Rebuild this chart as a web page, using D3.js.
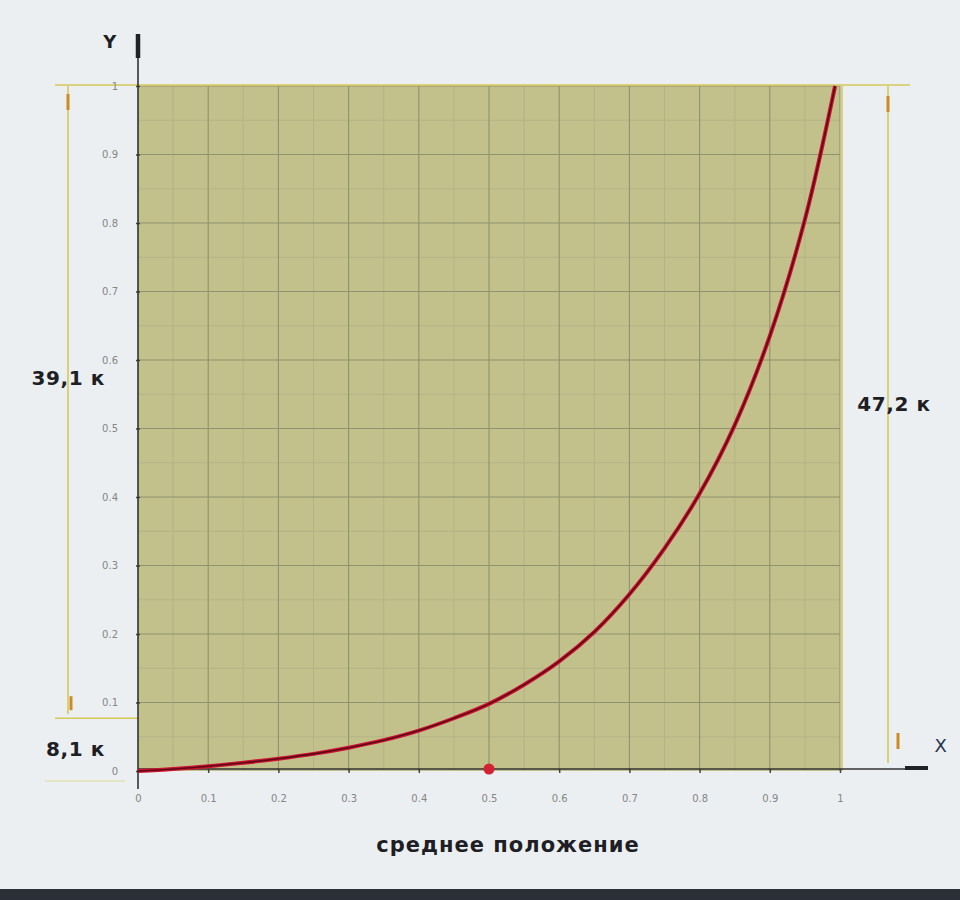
<!DOCTYPE html>
<html>
<head>
<meta charset="utf-8">
<script src="https://cdn.jsdelivr.net/npm/d3@7"></script>
<style>
  html, body { margin: 0; padding: 0; background: #ebeff2; }
  svg { display: block; }
</style>
</head>
<body>
<svg id="chart" width="960" height="900"></svg>
<script>
// ---- data ----
const curveX = [0, 0.05, 0.1, 0.15, 0.2, 0.25, 0.3, 0.35, 0.4, 0.45, 0.5, 0.55, 0.6, 0.65, 0.7, 0.75, 0.8, 0.85, 0.9, 0.95, 0.993];
const curveY = [0, 0.003, 0.007, 0.012, 0.018, 0.025, 0.034, 0.045, 0.059, 0.077, 0.098, 0.126, 0.16, 0.203, 0.258, 0.325, 0.405, 0.505, 0.635, 0.805, 1.0];
const markerPoint = [0.5, 0];
const xTicks = [0, 0.1, 0.2, 0.3, 0.4, 0.5, 0.6, 0.7, 0.8, 0.9, 1];
const yTicks = [0, 0.1, 0.2, 0.3, 0.4, 0.5, 0.6, 0.7, 0.8, 0.9, 1];
const minorTicks = [0.05, 0.15, 0.25, 0.35, 0.45, 0.55, 0.65, 0.75, 0.85, 0.95];
const dimLeftTop = "39,1 к";
const dimLeftBottom = "8,1 к";
const dimRight = "47,2 к";
const xTitle = "среднее положение";
const leftSplit = 0.08;   // level where left dimension is split

// ---- drawing ----
const svg = d3.select("#chart");
const x = d3.scaleLinear().domain([0, 1]).range([138, 840]);
const y = d3.scaleLinear().domain([0, 1]).range([771, 86]);

// shaded plot field
svg.append("rect")
  .attr("x", x(0)).attr("y", y(1))
  .attr("width", x(1) - x(0)).attr("height", y(0) - y(1))
  .attr("fill", "#c2c18c");

// minor grid
const g = svg.append("g");
g.selectAll("line.mv").data(minorTicks).join("line")
  .attr("x1", d => x(d)).attr("x2", d => x(d))
  .attr("y1", y(1)).attr("y2", y(0))
  .attr("stroke", "#b0b086").attr("stroke-width", 0.8);
g.selectAll("line.mh").data(minorTicks).join("line")
  .attr("y1", d => y(d)).attr("y2", d => y(d))
  .attr("x1", x(0)).attr("x2", x(1))
  .attr("stroke", "#b0b086").attr("stroke-width", 0.8);
// major grid
g.selectAll("line.gv").data(xTicks.slice(1)).join("line")
  .attr("x1", d => x(d)).attr("x2", d => x(d))
  .attr("y1", y(1)).attr("y2", y(0))
  .attr("stroke", "#90916e").attr("stroke-width", 1.1);
g.selectAll("line.gh").data(yTicks.slice(1)).join("line")
  .attr("y1", d => y(d)).attr("y2", d => y(d))
  .attr("x1", x(0)).attr("x2", x(1))
  .attr("stroke", "#90916e").attr("stroke-width", 1.1);

// dimension lines (yellow) and arrow marks (orange)
const dimColor = "#d6c858", arrowColor = "#cf8a22";
const dim = svg.append("g").attr("stroke", dimColor).attr("stroke-width", 1.6);
dim.append("line").attr("x1", 55).attr("x2", 910).attr("y1", y(1) - 1).attr("y2", y(1) - 1);
dim.append("line").attr("x1", 68).attr("x2", 68).attr("y1", y(1)).attr("y2", y(leftSplit) - 2);
dim.append("line").attr("x1", 55).attr("x2", x(0)).attr("y1", y(leftSplit) + 2).attr("y2", y(leftSplit) + 2);
dim.append("line").attr("x1", 45).attr("x2", 125).attr("y1", y(0) + 10).attr("y2", y(0) + 10).attr("stroke-opacity", 0.4);
dim.append("line").attr("x1", 888).attr("x2", 888).attr("y1", y(1)).attr("y2", y(0) - 8);
dim.append("line").attr("x1", x(1) + 2).attr("x2", x(1) + 2).attr("y1", y(1)).attr("y2", y(0));
const arr = svg.append("g").attr("stroke", arrowColor).attr("stroke-width", 3);
arr.append("line").attr("x1", 68).attr("x2", 68).attr("y1", y(1) + 8).attr("y2", y(1) + 24);
arr.append("line").attr("x1", 71).attr("x2", 71).attr("y1", y(leftSplit) - 20).attr("y2", y(leftSplit) - 6);
arr.append("line").attr("x1", 888).attr("x2", 888).attr("y1", y(1) + 10).attr("y2", y(1) + 26);
arr.append("line").attr("x1", 898).attr("x2", 898).attr("y1", y(0) - 38).attr("y2", y(0) - 22);

// axes
const fmt = d => d === 0 ? "0" : (d === 1 ? "1" : d3.format(".1f")(d));
const xAxis = d3.axisBottom(x).tickValues(xTicks).tickSize(4).tickPadding(20).tickFormat(fmt);
const yAxis = d3.axisLeft(y).tickValues(yTicks).tickSize(4).tickPadding(16).tickFormat(fmt);
const gx = svg.append("g").attr("transform", `translate(0,${y(0)})`).call(xAxis);
const gy = svg.append("g").attr("transform", `translate(${x(0)},0)`).call(yAxis);
[gx, gy].forEach(a => {
  a.select(".domain").remove();
  a.selectAll(".tick line").attr("stroke", "#444").attr("stroke-width", 1.5)
    .attr("transform", a === gx ? "translate(0,-2)" : "translate(2,0)");
  a.selectAll(".tick text").attr("fill", "#858585").attr("font-size", 10)
    .attr("font-family", "DejaVu Sans, sans-serif");
});

// axis lines with arrow heads
svg.append("line").attr("x1", x(0)).attr("x2", x(0)).attr("y1", 36).attr("y2", y(0) + 18)
  .attr("stroke", "#333").attr("stroke-width", 1.6);
svg.append("line").attr("x1", x(0)).attr("x2", x(0)).attr("y1", 34).attr("y2", 58)
  .attr("stroke", "#222").attr("stroke-width", 4.5);
svg.append("line").attr("x1", x(0)).attr("x2", 928).attr("y1", y(0) - 2).attr("y2", y(0) - 2)
  .attr("stroke", "#333").attr("stroke-width", 1.6);
svg.append("line").attr("x1", 905).attr("x2", 928).attr("y1", y(0) - 3).attr("y2", y(0) - 3)
  .attr("stroke", "#222").attr("stroke-width", 4);

// curve
const pts = curveX.map((d, i) => [d, curveY[i]]);
const line = d3.line().x(d => x(d[0])).y(d => y(d[1])).curve(d3.curveCatmullRom.alpha(0.5));
svg.append("path").datum(pts).attr("d", line)
  .attr("fill", "none").attr("stroke", "#d0122e").attr("stroke-width", 4);
svg.append("path").datum(pts).attr("d", line)
  .attr("fill", "none").attr("stroke", "#5a0a1a").attr("stroke-width", 1.6);

// marker point
svg.append("circle").attr("cx", x(markerPoint[0])).attr("cy", y(markerPoint[1]) - 2).attr("r", 5.5)
  .attr("fill", "#d42235");

// texts
const txt = (t, px, py, opts = {}) => svg.append("text").text(t)
  .attr("x", px).attr("y", py)
  .attr("font-family", "DejaVu Sans, sans-serif")
  .attr("font-size", opts.size || 20)
  .attr("font-weight", opts.weight || "bold")
  .attr("letter-spacing", opts.ls || 0.6)
  .attr("fill", opts.fill || "#1e1e24")
  .attr("text-anchor", opts.anchor || "start");
txt("Y", 110, 48, { anchor: "middle", size: 18, ls: 0 });
txt("X", 941, 752, { anchor: "middle", size: 18, weight: "normal", fill: "#2a3550", ls: 0 });
txt(dimLeftTop, 105, 385, { anchor: "end" });
txt(dimLeftBottom, 105, 756, { anchor: "end" });
txt(dimRight, 894, 411, { anchor: "middle" });
txt(xTitle, 508, 852, { anchor: "middle", size: 21, ls: 1 });

// monitor bezel at bottom edge
svg.append("rect").attr("x", 0).attr("y", 889).attr("width", 960).attr("height", 11).attr("fill", "#2b3038");
</script>
</body>
</html>
